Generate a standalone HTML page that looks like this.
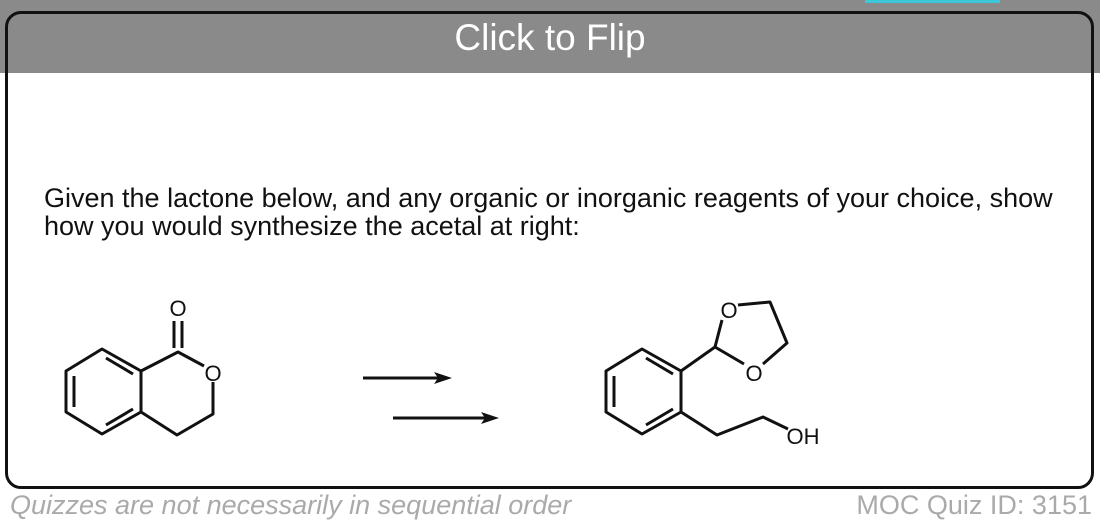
<!DOCTYPE html>
<html><head><style>
body{margin:0;width:1100px;height:532px;position:relative;background:#fff;overflow:hidden;font-family:"Liberation Sans",sans-serif}
.hdr{position:absolute;left:0;top:0;width:1100px;height:73px;background:#8a8a8a}
.card{position:absolute;left:5px;top:11px;width:1083px;height:472px;border:3px solid #111;border-radius:16px}
.title{position:absolute;left:0;width:1100px;top:17px;text-align:center;color:#fff;font-size:37px}
.q{position:absolute;left:44px;top:184px;font-size:27px;line-height:28px;color:#111;white-space:nowrap}
.f{position:absolute;top:490px;font-size:27px;color:#aaa;font-style:italic;white-space:nowrap}
</style></head><body>
<div class="hdr"></div>
<div style="position:absolute;left:865px;top:0;width:135px;height:3px;background:#3cc8d8"></div>
<div class="card"></div>
<div class="title">Click to Flip</div>
<div class="q">Given the lactone below, and any organic or inorganic reagents of your choice, show<br>how you would synthesize the acetal at right:</div>
<svg style="position:absolute;left:0;top:0" width="1100" height="532">
<g stroke="#111" stroke-width="3" fill="none" stroke-linejoin="round">
<path d="M102,349 L141,371 L141,412 L102,434 L66,412 L66,371 Z"/>
<path d="M106,358 L133,374 M133,409 L106,425 M74,376 L74,407"/>
<path d="M141,371 L178,352 L204,366 M213,382 L213,414 L177,435 L141,412"/>
<path d="M174,348 L174,321 M182,348 L182,321"/>
<path d="M642,349 L681,371 L681,412 L642,434 L606,412 L606,371 Z"/>
<path d="M646,358 L673,374 M673,409 L646,425 M614,376 L614,407"/>
<path d="M681,371 L715,347 L744,364 M715,347 L722,320 M738,305 L770,302 L787,343 L763,364"/>
<path d="M681,412 L717,435 L763,417 L788,429"/>
<path d="M363,378 L440,378 M393,418 L487,418"/>
</g>
<path d="M452,378 L434,372 L438,378 L434,384 Z M499,418 L481,412 L485,418 L481,424 Z" fill="#111"/>
<g font-family="Liberation Sans,sans-serif" font-size="22" fill="#111" text-anchor="middle">
<text x="178" y="316">O</text>
<text x="213" y="381">O</text>
<text x="729" y="318">O</text>
<text x="754" y="381">O</text>
<text x="803" y="444">OH</text>
</g>
</svg>
<div class="f" style="left:10px">Quizzes are not necessarily in sequential order</div>
<div class="f" style="right:8px;font-style:normal">MOC Quiz ID: 3151</div>
</body></html>
